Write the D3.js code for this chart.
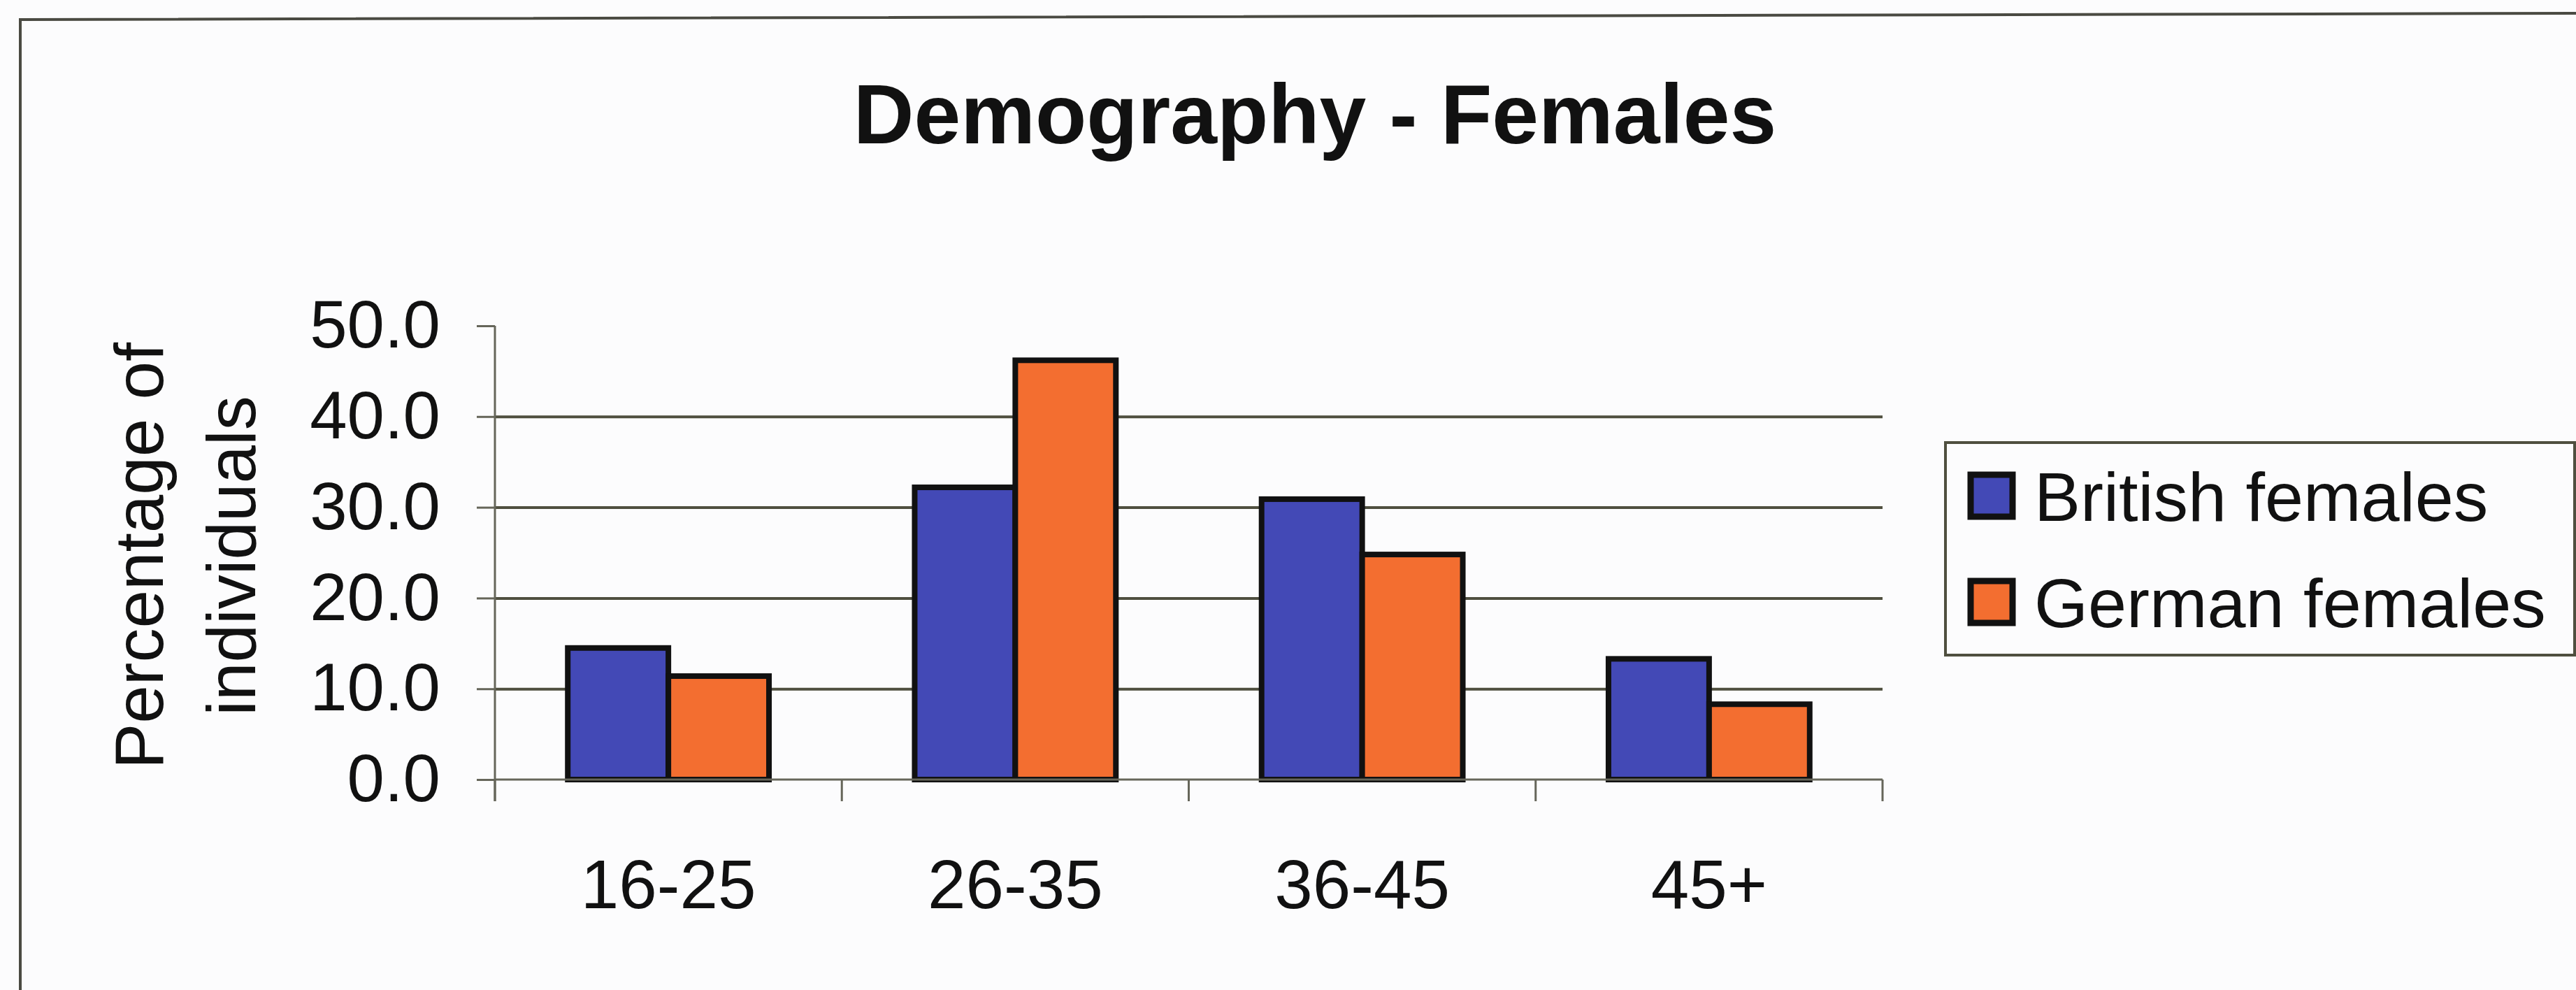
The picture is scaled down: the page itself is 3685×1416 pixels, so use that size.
<!DOCTYPE html>
<html>
<head>
<meta charset="utf-8">
<script src="https://cdn.jsdelivr.net/npm/d3@7"></script>
<style>
  html, body { margin: 0; padding: 0; background: #fcfcfd; }
  svg { display: block; }
  text { font-family: "Liberation Sans", Arial, sans-serif; fill: #111; }
</style>
</head>
<body>
<script>
// ---- Data ----
const categories = ["16-25", "26-35", "36-45", "45+"];
const seriesNames = ["British females", "German females"];
const britishValues = [14.5, 32.2, 30.9, 13.3];
const germanValues = [11.4, 46.2, 24.8, 8.3];
const yTicks = [0, 10, 20, 30, 40, 50];
const gridTicks = [10, 20, 30, 40];
const titleText = "Demography - Females";
const yTitleLines = ["Percentage of", "individuals"];

const seriesColors = ["#4349b6", "#f36e30"];

const W = 3685, H = 1416;
const plot = { left: 708, right: 2693, top: 466, bottom: 1115 };

const svg = d3.select("body").append("svg").attr("width", W).attr("height", H);

svg.append("rect").attr("width", W).attr("height", H).attr("fill", "#fcfcfd");

// outer frame (top and left edges visible)
svg.append("path")
  .attr("d", `M29,${H + 10} L29,28 L${W + 10},19`)
  .attr("fill", "none").attr("stroke", "#4a4a42").attr("stroke-width", 4);

// title
svg.append("text")
  .attr("x", 1881).attr("y", 205)
  .attr("text-anchor", "middle")
  .style("font-size", "120px").style("font-weight", "bold")
  .text(titleText);

// scales
const y = d3.scaleLinear().domain([0, 50]).range([plot.bottom, plot.top]);
const xCat = d3.scaleBand().domain(categories).range([plot.left, plot.right]).padding(0);
const x0 = d3.scaleBand().domain(categories).range([plot.left, plot.right])
  .paddingInner(0.42).paddingOuter(0.21);
const x1 = d3.scaleBand().domain(seriesNames).range([0, x0.bandwidth()]).padding(0);

// gridlines
const grid = svg.append("g").attr("transform", `translate(${plot.left},0)`)
  .call(d3.axisLeft(y).tickValues(gridTicks).tickSize(-(plot.right - plot.left)).tickFormat(""));
grid.select(".domain").remove();
grid.selectAll("line").attr("stroke", "#4f4f3f").attr("stroke-width", 4);

// bars
const rows = categories.map((c, i) => ({ cat: c, vals: [britishValues[i], germanValues[i]] }));
const groups = svg.append("g").selectAll("g").data(rows).join("g")
  .attr("transform", d => `translate(${x0(d.cat)},0)`);
groups.selectAll("rect")
  .data(d => d.vals.map((v, j) => ({ name: seriesNames[j], v, j })))
  .join("rect")
  .attr("x", d => x1(d.name))
  .attr("width", x1.bandwidth())
  .attr("y", d => y(d.v))
  .attr("height", d => y(0) - y(d.v))
  .attr("fill", d => seriesColors[d.j])
  .attr("stroke", "#111").attr("stroke-width", 8)
  .attr("stroke-linejoin", "miter");

// x axis baseline
svg.append("line")
  .attr("x1", plot.left).attr("x2", plot.right)
  .attr("y1", y(0)).attr("y2", y(0))
  .attr("stroke", "#66665a").attr("stroke-width", 3);

// category boundary ticks
const bounds = categories.map(c => xCat(c)).concat([plot.right]);
svg.append("g").selectAll("line").data(bounds).join("line")
  .attr("x1", d => d).attr("x2", d => d)
  .attr("y1", y(0)).attr("y2", y(0) + 31)
  .attr("stroke", "#66665a").attr("stroke-width", 3);

// category labels
const xAxis = svg.append("g").attr("transform", `translate(0,${plot.bottom})`)
  .call(d3.axisBottom(xCat).tickSize(0).tickPadding(114));
xAxis.select(".domain").remove();
xAxis.selectAll("text").style("font-size", "98px").style("font-family", '"Liberation Sans", Arial, sans-serif').attr("fill", "#111");

// y axis
const yAxis = svg.append("g").attr("transform", `translate(${plot.left},0)`)
  .call(d3.axisLeft(y).tickValues(yTicks).tickSize(26).tickPadding(52).tickFormat(d3.format(".1f")));
yAxis.select(".domain").remove();
yAxis.selectAll("line").attr("stroke", "#66665a").attr("stroke-width", 3);
yAxis.selectAll("text").style("font-size", "96px").style("font-family", '"Liberation Sans", Arial, sans-serif').attr("fill", "#111");
svg.append("line")
  .attr("x1", plot.left).attr("x2", plot.left)
  .attr("y1", plot.top).attr("y2", plot.bottom + 31)
  .attr("stroke", "#66665a").attr("stroke-width", 3);

// y title
const yTitle = svg.append("text")
  .attr("transform", "translate(0,795) rotate(-90)")
  .attr("text-anchor", "middle")
  .style("font-size", "98px");
yTitle.selectAll("tspan").data(yTitleLines).join("tspan")
  .attr("x", 0)
  .attr("y", (d, i) => [233, 365][i])
  .text(d => d);

// legend
const lg = svg.append("g");
lg.append("rect")
  .attr("x", 2783).attr("y", 633).attr("width", 900).attr("height", 304)
  .attr("fill", "#fcfcfd").attr("stroke", "#4f4f3f").attr("stroke-width", 4);
const items = lg.selectAll("g.item").data(seriesNames).join("g")
  .attr("class", "item")
  .attr("transform", (d, i) => `translate(0,${[745, 897][i]})`);
items.append("rect")
  .attr("x", 2819).attr("y", -66).attr("width", 60).attr("height", 60)
  .attr("fill", (d, i) => seriesColors[i])
  .attr("stroke", "#111").attr("stroke-width", 9);
items.append("text")
  .attr("x", 2910).attr("y", 0)
  .style("font-size", "99px")
  .text(d => d);
</script>
</body>
</html>
